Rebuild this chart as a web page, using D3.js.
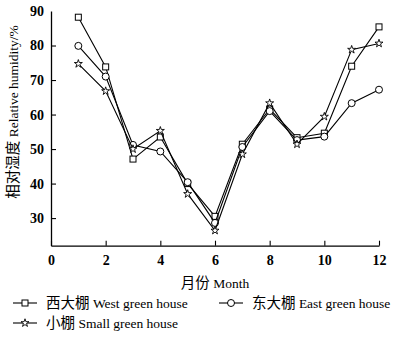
<!DOCTYPE html>
<html><head><meta charset="utf-8">
<script src="https://cdn.jsdelivr.net/npm/d3@7"></script>
<style>body{margin:0;background:#fff}</style>
</head><body>
<script>
const months = [1,2,3,4,5,6,7,8,9,10,11,12];
const west  = [88.2,73.8,47.1,53.5,40.0,30.5,51.4,61.6,53.3,54.6,74.0,85.4];
const east  = [79.9,71.0,51.2,49.3,40.4,28.6,50.6,61.0,52.6,53.6,63.3,67.2];
const small = [74.7,66.8,50.0,55.3,37.0,26.4,48.5,63.3,51.4,59.4,78.8,80.6];
const xTicks = [0,2,4,6,8,10,12];
const yTicks = [30,40,50,60,70,80,90];
const seriesZh = ["西大棚","东大棚","小棚"];
const seriesEn = ["West green house","East green house","Small green house"];
const symbols = ["square","circle","star"];

const W=394,H=337;
const svg=d3.select("body").append("svg").attr("width",W).attr("height",H);
const x=d3.scaleLinear().domain([0,12]).range([51,379]);
const y=d3.scaleLinear().domain([22,90]).range([245.7,11]);
const serif='"Times New Roman","Liberation Serif",serif';
const cjk='"Noto Sans CJK SC",serif';

const xa=svg.append("g").attr("transform","translate(0,245.7)")
  .call(d3.axisBottom(x).tickValues(xTicks).tickSizeInner(-5).tickSizeOuter(0).tickPadding(9));
const ya=svg.append("g").attr("transform","translate(51,0)")
  .call(d3.axisLeft(y).tickValues(yTicks).tickSizeInner(-5).tickSizeOuter(0).tickPadding(7));
[xa,ya].forEach(a=>{
  a.select(".domain").attr("stroke","#000").attr("stroke-width",1.3);
  a.selectAll(".tick line").attr("stroke","#000").attr("stroke-width",1.1);
  a.selectAll("text").attr("font-family",serif).attr("font-size",14).attr("font-weight","bold").attr("fill","#000");
});
ya.selectAll(".tick").filter(d=>d===90).select("line").remove();

function mixed(t,zh,en){
  t.append("tspan").attr("font-family",cjk).attr("font-size",14.5).text(zh);
  t.append("tspan").attr("font-family",serif).attr("font-size",13.5).text(" "+en);
}
mixed(svg.append("text").attr("x",215).attr("y",288).attr("text-anchor","middle"),"月份","Month");
mixed(svg.append("text").attr("transform","translate(17.5,112) rotate(-90)").attr("text-anchor","middle"),"相对湿度","Relative humidity/%");

function drawMarker(g,type,cx,cy){
  if(type==="square") g.append("rect").attr("x",cx-3).attr("y",cy-3).attr("width",6).attr("height",6)
     .attr("fill","#fff").attr("stroke","#000").attr("stroke-width",1);
  else if(type==="circle") g.append("circle").attr("cx",cx).attr("cy",cy).attr("r",3.5)
     .attr("fill","#fff").attr("stroke","#000").attr("stroke-width",1);
  else g.append("path").attr("d",d3.symbol().type(d3.symbolStar).size(20)())
     .attr("transform",`translate(${cx},${cy})`).attr("fill","#fff").attr("stroke","#000").attr("stroke-width",0.9);
}
const line=d3.line().x((d,i)=>x(months[i])).y(d=>y(d));
[west,east,small].forEach((s,k)=>{
  const g=svg.append("g");
  g.append("path").attr("d",line(s)).attr("fill","none").attr("stroke","#000").attr("stroke-width",1.1);
  s.forEach((v,i)=>drawMarker(g,symbols[k],x(months[i]),y(v)));
});

const leg=[{x:13,y:303},{x:219,y:303},{x:13,y:323}];
leg.forEach((p,k)=>{
  const g=svg.append("g");
  g.append("line").attr("x1",p.x).attr("x2",p.x+24).attr("y1",p.y).attr("y2",p.y).attr("stroke","#000").attr("stroke-width",1.1);
  drawMarker(g,symbols[k],p.x+12,p.y);
  mixed(g.append("text").attr("x",p.x+33).attr("y",p.y+5),seriesZh[k],seriesEn[k]);
});
</script>
</body></html>
